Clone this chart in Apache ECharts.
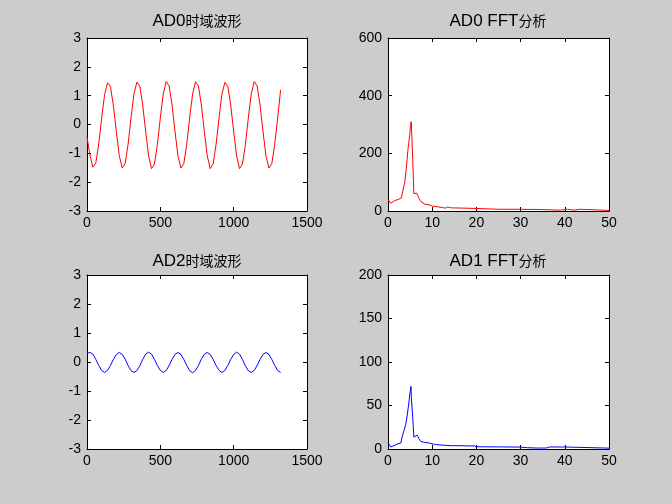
<!DOCTYPE html>
<html>
<head>
<meta charset="utf-8">
<script src="https://cdn.jsdelivr.net/npm/echarts@6/dist/echarts.min.js"></script>
<style>
  html, body { margin: 0; padding: 0; background: #cccccc; }
  #chart { width: 672px; height: 504px; }
</style>
</head>
<body>
<div id="chart"></div>
<script>
// sample index of the time-domain traces
const timeX = [
  0, 20, 40, 60, 80, 100, 120, 140, 160, 180,
  200, 220, 240, 260, 280, 300, 320, 340, 360, 380,
  400, 420, 440, 460, 480, 500, 520, 540, 560, 580,
  600, 620, 640, 660, 680, 700, 720, 740, 760, 780,
  800, 820, 840, 860, 880, 900, 920, 940, 960, 980,
  1000, 1020, 1040, 1060, 1080, 1100, 1120, 1140, 1160, 1180,
  1200, 1220, 1240, 1260, 1280, 1300, 1320
];

// AD0 time-domain waveform (red)
const ad0Wave = [
  -0.43, -1.06, -1.48, -1.34, -0.68, 0.22, 1.04, 1.45, 1.31, 0.66,
  -0.24, -1.08, -1.51, -1.36, -0.69, 0.23, 1.05, 1.47, 1.33, 0.67,
  -0.24, -1.09, -1.53, -1.37, -0.69, 0.23, 1.07, 1.49, 1.34, 0.68,
  -0.24, -1.08, -1.51, -1.36, -0.69, 0.23, 1.06, 1.48, 1.33, 0.67,
  -0.24, -1.09, -1.53, -1.37, -0.69, 0.22, 1.05, 1.46, 1.32, 0.67,
  -0.24, -1.09, -1.53, -1.37, -0.70, 0.23, 1.07, 1.49, 1.34, 0.68,
  -0.24, -1.08, -1.51, -1.36, -0.69, 0.23, 1.20
];

// AD2 time-domain waveform (blue)
const ad2Wave = [
  0.30, 0.33, 0.27, 0.09, -0.12, -0.29, -0.36, -0.29, -0.12, 0.09,
  0.26, 0.33, 0.26, 0.10, -0.12, -0.30, -0.36, -0.30, -0.13, 0.09,
  0.27, 0.34, 0.27, 0.09, -0.12, -0.29, -0.36, -0.29, -0.12, 0.09,
  0.26, 0.33, 0.26, 0.09, -0.12, -0.30, -0.37, -0.29, -0.12, 0.10,
  0.27, 0.33, 0.26, 0.09, -0.12, -0.29, -0.36, -0.29, -0.12, 0.09,
  0.26, 0.34, 0.27, 0.09, -0.13, -0.30, -0.36, -0.29, -0.12, 0.09,
  0.26, 0.33, 0.26, 0.09, -0.12, -0.29, -0.36
];

// AD0 FFT spectrum (red)
const ad0Freq = [
  0, 0.6, 1.5, 2.3, 3.0, 3.4, 3.8, 4.1, 4.5, 4.9,
  5.1, 5.25, 5.4, 5.6, 5.85, 6.2, 6.5, 7.0, 7.5, 8.3,
  9.4, 10.1, 11.5, 12.3, 13.0, 13.5, 14.2, 17, 19.4, 19.8,
  25, 30, 34.8, 35.2, 39, 39.4, 40.6, 41, 42, 42.4,
  43.4, 43.8, 50
];
const ad0Amp = [
  40, 27, 36, 40, 45, 72, 101, 141, 210, 262,
  297, 310, 258, 176, 60, 55, 62, 44, 32, 24,
  21, 17, 14, 12, 10, 14, 11, 10, 9, 6,
  6, 6, 5, 3, 3, 7, 6, 3, 3, 6,
  6, 2, 2
];

// AD1 FFT spectrum (blue)
const ad1Freq = [
  0, 0.6, 1.35, 2.1, 2.9, 3.2, 3.6, 4.0, 4.36, 4.74,
  5.04, 5.2, 5.3, 5.56, 5.86, 6.2, 6.6, 7.0, 7.4, 8.3,
  9.4, 10.5, 12, 14.3, 14.7, 15.4, 19.5, 20, 30, 31.5,
  33.8, 34.2, 34.6, 35.8, 36.2, 36.6, 40, 40.3, 50
];
const ad1Amp = [
  7.6, 2.3, 3.8, 5.7, 6.8, 14, 21, 28, 39, 54,
  67, 72, 58, 39, 13.6, 14.4, 16, 11.7, 8.7, 7.6,
  6.8, 5.3, 4.5, 3.8, 4.9, 3.8, 3.5, 2.6, 2.2, 1.5,
  1.1, 2.2, 1.1, 1.1, 0.5, 2.3, 2.3, 1.2, 1.0
];

const zip = (xs, ys) => xs.map((x, i) => [x, ys[i]]);

const tickFont = { fontSize: 14, fontFamily: 'Liberation Sans', color: '#000' };

const grids = [
  { left: 87, top: 38, width: 220, height: 173 },
  { left: 388, top: 38, width: 221, height: 173 },
  { left: 87, top: 275, width: 220, height: 174 },
  { left: 388, top: 275, width: 221, height: 174 }
];

const axisRanges = [
  { x: [0, 1500, 500], y: [-3, 3, 1] },
  { x: [0, 50, 10], y: [0, 600, 200] },
  { x: [0, 1500, 500], y: [-3, 3, 1] },
  { x: [0, 50, 10], y: [0, 200, 50] }
];

const baseAxis = (gridIndex, range, position, showLabel) => ({
  type: 'value',
  gridIndex,
  position,
  min: range[0],
  max: range[1],
  interval: range[2],
  splitLine: { show: false },
  axisLine: { show: true, onZero: false, lineStyle: { color: '#000', width: 1 } },
  axisTick: { show: true, inside: true, length: 4, lineStyle: { color: '#000' } },
  axisLabel: Object.assign({
    show: showLabel,
    margin: position === 'left' ? 6 : 5,
    formatter: v => String(v)
  }, tickFont)
});

const xAxes = [];
const yAxes = [];
axisRanges.forEach((r, i) => {
  xAxes.push(baseAxis(i, r.x, 'bottom', true));
  xAxes.push(baseAxis(i, r.x, 'top', false));
  yAxes.push(baseAxis(i, r.y, 'left', true));
  yAxes.push(baseAxis(i, r.y, 'right', false));
});

const makeTitle = (latin, cjk, cx, top) => ({
  text: `{a|${latin}}{b|${cjk}}`,
  left: cx,
  top,
  textAlign: 'center',
  padding: 0,
  textStyle: {
    fontWeight: 'normal',
    rich: {
      a: { fontSize: 17, fontFamily: 'Liberation Sans', fontWeight: 'normal', color: '#000', lineHeight: 20 },
      b: { fontSize: 14, fontFamily: 'Noto Sans CJK SC', fontWeight: 'normal', color: '#000', lineHeight: 20 }
    }
  }
});

const lineSeries = (idx, data, color) => ({
  type: 'line',
  xAxisIndex: idx * 2,
  yAxisIndex: idx * 2,
  data,
  showSymbol: false,
  symbol: 'none',
  lineStyle: { color, width: 1 },
  itemStyle: { color }
});

const chart = echarts.init(document.getElementById('chart'));
chart.setOption({
  backgroundColor: '#cccccc',
  animation: false,
  title: [
    makeTitle('AD0', '时域波形', 197, 11),
    makeTitle('AD0 FFT', '分析', 498, 11),
    makeTitle('AD2', '时域波形', 197, 251),
    makeTitle('AD1 FFT', '分析', 498, 251)
  ],
  grid: grids.map(g => Object.assign({
    show: true, backgroundColor: '#ffffff', borderColor: '#000', borderWidth: 0
  }, g)),
  xAxis: xAxes,
  yAxis: yAxes,
  series: [
    lineSeries(0, zip(timeX, ad0Wave), '#ff0000'),
    lineSeries(1, zip(ad0Freq, ad0Amp), '#ff0000'),
    lineSeries(2, zip(timeX, ad2Wave), '#0000ff'),
    lineSeries(3, zip(ad1Freq, ad1Amp), '#0000ff')
  ]
});
</script>
</body>
</html>
